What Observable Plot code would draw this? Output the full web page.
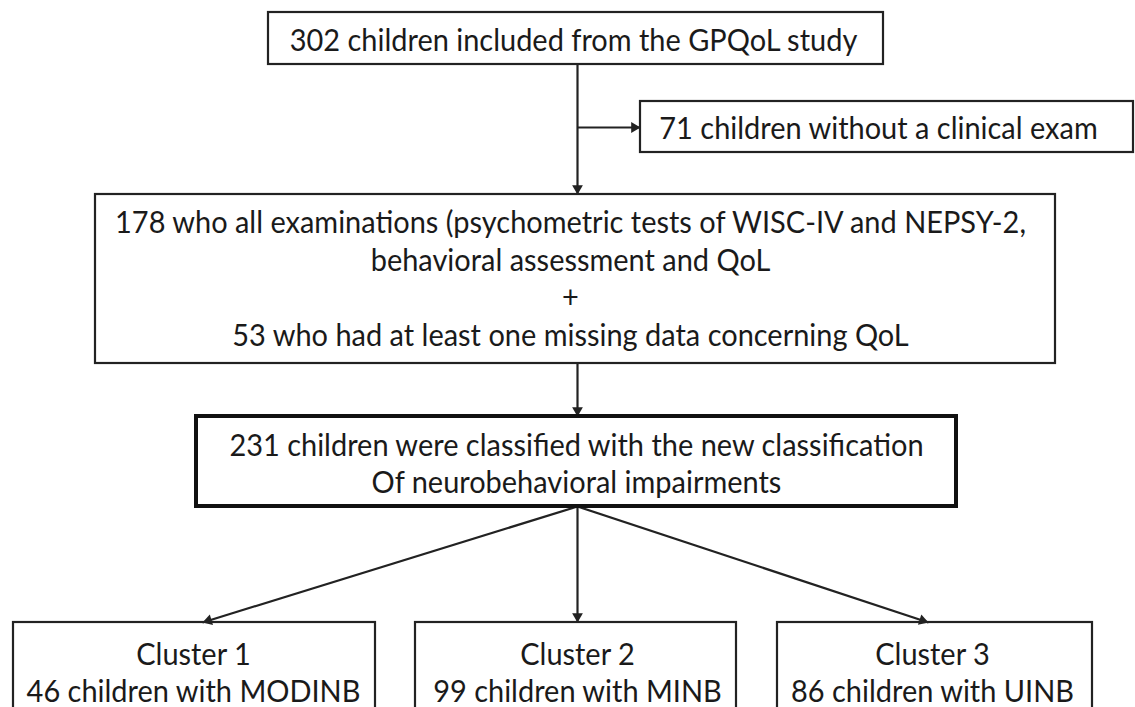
<!DOCTYPE html>
<html><head><meta charset="utf-8">
<script src="https://cdn.jsdelivr.net/npm/d3@7"></script>
<script src="https://cdn.jsdelivr.net/npm/@observablehq/plot@0.6"></script>
<style>body{margin:0;background:#fff}</style>
</head><body><div id="chart"></div>
<script>
// Flowchart nodes (diagram coordinates, in chart units)
const boxIds = ["start", "excluded", "exams", "classified", "c1", "c2", "c3"];
const boxLabels = [
  "302 children included from the GPQoL study",
  "71 children without a clinical exam",
  "178 who all examinations (psychometric tests of WISC-IV and NEPSY-2,\nbehavioral assessment and QoL\n+\n53 who had at least one missing data concerning QoL",
  "231 children were classified with the new classification\nOf neurobehavioral impairments",
  "Cluster 1\n46 children with MODINB",
  "Cluster 2\n99 children with MINB",
  "Cluster 3\n86 children with UINB"
];
const boxLeft   = [268, 640, 95, 196, 13, 415, 777];
const boxRight  = [883, 1133, 1055, 956, 375, 736, 1092];
const boxTop    = [12, 101, 194, 416, 622, 622, 622];
const boxBottom = [64, 152, 363, 506, 712, 712, 712];
const labelX    = [573, 878, 570, 576, 193, 577, 932];
const labelY    = [38, 126, 277, 462, 671, 671, 671];
const emphasized = ["classified"];

// Edges (from -> to), with the connection points
const edgeFrom = ["start", "start", "exams", "classified", "classified", "classified"];
const edgeTo   = ["exams", "excluded", "classified", "c1", "c2", "c3"];
const edgeX1 = [577, 577, 577, 577, 577, 577];
const edgeY1 = [64, 127, 363, 506, 506, 506];
const edgeX2 = [577, 640, 577, 202, 577, 928];
const edgeY2 = [194, 127, 416, 622, 622, 622];

const boxes = boxIds.map((id, i) => ({
  id, label: boxLabels[i], x1: boxLeft[i], x2: boxRight[i], y1: boxTop[i], y2: boxBottom[i],
  tx: labelX[i], ty: labelY[i], bold: emphasized.includes(id)
}));
const edges = edgeFrom.map((f, i) => ({from: f, to: edgeTo[i], x1: edgeX1[i], y1: edgeY1[i], x2: edgeX2[i], y2: edgeY2[i]}));

const R = 4;
const tipOffset = 2 * Math.sqrt((R * R * Math.PI) / (3 * Math.sqrt(3)));
const unit = d => { const dx = d.x2 - d.x1, dy = d.y2 - d.y1, l = Math.hypot(dx, dy); return [dx / l, dy / l]; };

const ink = "#222";
const chart = Plot.plot({
  width: 1135, height: 707, margin: 0,
  x: {domain: [0, 1135], range: [0, 1135], axis: null},
  y: {domain: [0, 707], range: [0, 707], axis: null},
  style: {fontFamily: "Lato, 'Open Sans', sans-serif", background: "#fff", overflow: "hidden"},
  marks: [
    Plot.link(edges, {x1: "x1", y1: "y1", x2: "x2", y2: "y2", stroke: ink, strokeWidth: 2.2}),
    Plot.dot(edges, {
      x: d => d.x2 - unit(d)[0] * tipOffset,
      y: d => d.y2 - unit(d)[1] * tipOffset,
      symbol: "triangle", r: R, fill: ink, stroke: "none",
      rotate: d => Math.atan2(d.x2 - d.x1, -(d.y2 - d.y1)) * 180 / Math.PI
    }),
    Plot.rect(boxes.filter(d => !d.bold), {x1: "x1", x2: "x2", y1: "y1", y2: "y2", fill: "none", stroke: ink, strokeWidth: 2.2}),
    Plot.rect(boxes.filter(d => d.bold), {x1: "x1", x2: "x2", y1: "y1", y2: "y2", fill: "none", stroke: "#111", strokeWidth: 4}),
    Plot.text(boxes, {x: "tx", y: "ty", text: "label", fontSize: 30, lineHeight: 1.25, fill: "#1a1a1a", lineAnchor: "middle"})
  ]
});
document.getElementById("chart").appendChild(chart);

// Narrow the substitute font slightly so it sets like the original's condensed face
const squeeze = 0.965;
chart.querySelectorAll("text").forEach(t => {
  const spans = t.querySelectorAll("tspan");
  const targets = spans.length ? Array.from(spans) : (t.closest("g[aria-label='text']") ? [t] : []);
  targets.forEach(el => {
    const w = el.getComputedTextLength();
    if (w > 0) {
      el.setAttribute("textLength", (w * squeeze).toFixed(1));
      el.setAttribute("lengthAdjust", "spacingAndGlyphs");
    }
  });
});
</script>
</body></html>
